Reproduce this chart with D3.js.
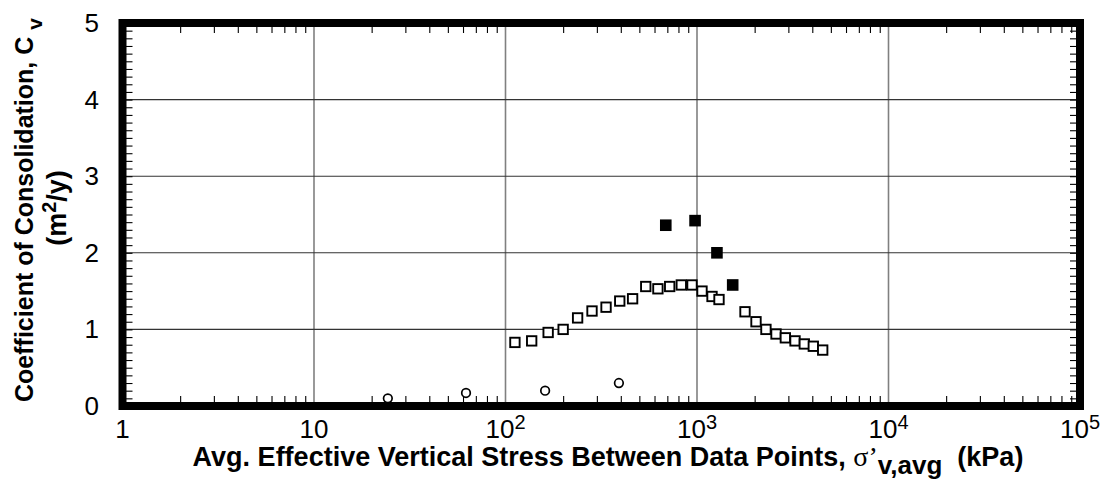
<!DOCTYPE html>
<html><head><meta charset="utf-8">
<script src="https://cdn.jsdelivr.net/npm/d3@7"></script>
<style>html,body{margin:0;padding:0;background:#fff;} svg{display:block;}</style>
</head><body>
<svg id="chart" width="1110" height="484"></svg>
<script>
// ---- data ----
const openSquareX = [112,137,167,200,238,283,335,395,461,540,625,720,828,942,1062,1198,1303,1781,2033,2291,2586,2893,3250,3634,4049,4533];
const openSquareY = [0.83,0.85,0.96,1.00,1.15,1.24,1.29,1.37,1.40,1.56,1.53,1.56,1.58,1.58,1.50,1.43,1.39,1.23,1.10,1.00,0.94,0.89,0.85,0.81,0.78,0.73];
const filledSquareX = [687,977,1271,1536];
const filledSquareY = [2.36,2.42,2.00,1.58];
const openCircleX = [24.3,62.2,161,391];
const openCircleY = [0.10,0.17,0.20,0.30];
const xTickValues = [1,10,100,1000,10000,100000];
const xTickBase = ["1","10","10","10","10","10"];
const xTickExp = ["","","2","3","4","5"];
const yTickValues = [0,1,2,3,4,5];
const yTickLabels = ["0","1","2","3","4","5"];
const xTitleMain = "Avg. Effective Vertical Stress Between Data Points, ";
const xTitleSym = "\u03c3\u2019";
const xTitleSub = "v,avg";
const xTitleUnit = "\u00a0\u00a0(kPa)";
const yTitle1 = "Coefficient of Consolidation, C ";
const yTitle1Sub = "v";
const yTitle2a = "(m", yTitle2sup = "2", yTitle2b = "/y)";

// ---- chart ----
const svg = d3.select("#chart");
const x = d3.scaleLog().domain([1,1e5]).range([122.5,1080]);
const y = d3.scaleLinear().domain([0,5]).range([406,23]);
const x0 = x.range()[0], x1 = x.range()[1], yb = y.range()[0], yt = y.range()[1];

// minor tick values
const minorX = [];
for (let d = 0; d < 5; d++) for (let m = 2; m <= 9; m++) minorX.push(m * Math.pow(10, d));
const minorY = d3.range(1, 50).map(i => i / 10);

// gridlines
svg.append("g").selectAll("line").data([10,100,1000,10000]).join("line")
  .attr("x1", d => x(d)).attr("x2", d => x(d)).attr("y1", yt).attr("y2", yb)
  .attr("stroke", "#808080").attr("stroke-width", 1.6);
svg.append("g").selectAll("line").data([1,2,3,4]).join("line")
  .attr("x1", x0).attr("x2", x1).attr("y1", d => y(d)).attr("y2", d => y(d))
  .attr("stroke", "#333").attr("stroke-width", 1.1);

// minor ticks via axes
function styleAxis(g){ g.select(".domain").remove(); g.selectAll(".tick line").attr("stroke","#000").attr("stroke-width",1.1); g.selectAll("text").remove(); }
svg.append("g").attr("transform", `translate(0,${yb})`)
  .call(d3.axisBottom(x).tickValues(minorX).tickSize(-10).tickFormat("")).call(styleAxis);
svg.append("g").attr("transform", `translate(0,${yt})`)
  .call(d3.axisTop(x).tickValues(minorX).tickSize(-10).tickFormat("")).call(styleAxis);
svg.append("g").attr("transform", `translate(${x0},0)`)
  .call(d3.axisLeft(y).tickValues(minorY).tickSize(-10).tickFormat("")).call(styleAxis);
svg.append("g").attr("transform", `translate(${x1},0)`)
  .call(d3.axisRight(y).tickValues(minorY).tickSize(-10).tickFormat("")).call(styleAxis);

// frame
svg.append("rect").attr("x", x0).attr("y", yt).attr("width", x1 - x0).attr("height", yb - yt)
  .attr("fill", "none").attr("stroke", "#000").attr("stroke-width", 8);

// markers
const circles = openCircleX.map((v,i) => ({x:v, y:openCircleY[i]}));
const oSq = openSquareX.map((v,i) => ({x:v, y:openSquareY[i]}));
const fSq = filledSquareX.map((v,i) => ({x:v, y:filledSquareY[i]}));
svg.append("g").selectAll("circle").data(circles).join("circle")
  .attr("cx", d => x(d.x)).attr("cy", d => y(d.y)).attr("r", 4.3)
  .attr("fill", "#fff").attr("stroke", "#000").attr("stroke-width", 1.7);
svg.append("g").selectAll("rect").data(oSq).join("rect")
  .attr("x", d => x(d.x) - 4.7).attr("y", d => y(d.y) - 4.7).attr("width", 9.4).attr("height", 9.4)
  .attr("fill", "#fff").attr("stroke", "#000").attr("stroke-width", 1.9);
svg.append("g").selectAll("rect").data(fSq).join("rect")
  .attr("x", d => x(d.x) - 5.8).attr("y", d => y(d.y) - 5.8).attr("width", 11.6).attr("height", 11.6)
  .attr("fill", "#000");

// tick labels
const font = "'Liberation Sans', Arial, Helvetica, sans-serif";
const xl = svg.append("g").selectAll("text").data(xTickValues).join("text")
  .attr("x", d => x(d)).attr("y", 438).attr("text-anchor", "middle")
  .attr("font-family", font).attr("font-size", 26).attr("fill", "#000");
xl.append("tspan").text((d,i) => xTickBase[i]);
xl.append("tspan").attr("font-size", 20).attr("dy", -9).text((d,i) => xTickExp[i]);

svg.append("g").selectAll("text").data(yTickValues).join("text")
  .attr("x", 99).attr("y", d => y(d) + 9).attr("text-anchor", "end")
  .attr("font-family", font).attr("font-size", 26).attr("fill", "#000")
  .text((d,i) => yTickLabels[i]);

// x title
const xt = svg.append("text").attr("x", 608).attr("y", 466).attr("text-anchor", "middle")
  .attr("font-family", font).attr("font-size", 27).attr("font-weight", "bold").attr("fill", "#000");
xt.append("tspan").text(xTitleMain);
xt.append("tspan").attr("font-family", "'Liberation Serif', 'Times New Roman', serif").attr("font-weight", "normal").attr("font-size", 28).text(xTitleSym);
xt.append("tspan").attr("font-size", 26).attr("dy", 8).text(xTitleSub);
xt.append("tspan").attr("dy", -8).text(xTitleUnit);

// y title
const yt1 = svg.append("text").attr("transform", "translate(33,210) rotate(-90)").attr("text-anchor", "middle")
  .attr("font-family", font).attr("font-size", 25).attr("font-weight", "bold").attr("fill", "#000");
yt1.append("tspan").text(yTitle1);
yt1.append("tspan").attr("font-size", 21).attr("dy", 9).text(yTitle1Sub);
const yt2 = svg.append("text").attr("transform", "translate(66,208) rotate(-90)").attr("text-anchor", "middle")
  .attr("font-family", font).attr("font-size", 27).attr("font-weight", "bold").attr("fill", "#000");
yt2.append("tspan").text(yTitle2a);
yt2.append("tspan").attr("font-size", 20).attr("dy", -10).text(yTitle2sup);
yt2.append("tspan").attr("dy", 10).text(yTitle2b);
</script>
</body></html>
